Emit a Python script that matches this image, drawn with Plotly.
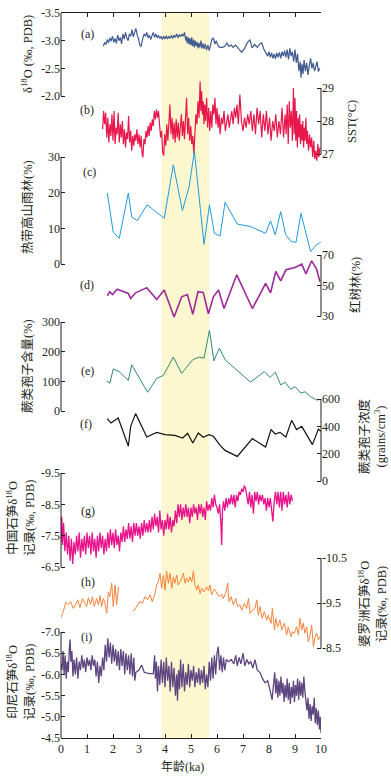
import plotly.graph_objects as go

# ---------------- data ----------------
# (a) delta18O, permil PDB
a_age = [1.63, 1.68, 1.73, 1.78, 1.83, 1.88, 1.93, 1.98, 2.03, 2.08, 2.13, 2.18, 2.23, 2.28,
         2.33, 2.38, 2.43, 2.48, 2.53, 2.58, 2.63, 2.68, 2.73, 2.78, 2.83, 2.88, 2.93, 2.98,
         3.03, 3.08, 3.15, 3.20, 3.25, 3.30, 3.35, 3.40, 3.45, 3.50, 3.55, 3.60, 3.65, 3.70,
         3.75, 3.80, 3.85, 3.90, 3.95, 4.00, 4.05, 4.10, 4.15, 4.20, 4.25, 4.30, 4.35, 4.40,
         4.45, 4.50, 4.55, 4.60, 4.65, 4.70, 4.75, 4.80, 4.83, 4.86, 4.90, 4.93, 4.96, 5.00,
         5.03, 5.06, 5.10, 5.13, 5.16, 5.20, 5.23, 5.27, 5.30, 5.34, 5.38, 5.42, 5.46, 5.50,
         5.55, 5.60, 5.65, 5.70, 5.75, 5.80, 5.86, 5.92, 5.97, 6.03, 6.10, 6.20, 6.30, 6.38,
         6.45, 6.55, 6.62, 6.72, 6.82, 6.95, 7.05, 7.15, 7.27, 7.35, 7.45, 7.55, 7.65, 7.72,
         7.80, 7.88, 7.95, 8.00, 8.05, 8.10, 8.15, 8.20, 8.25, 8.30, 8.35, 8.40, 8.45, 8.50,
         8.55, 8.60, 8.65, 8.70, 8.75, 8.80, 8.85, 8.90, 8.95, 9.00, 9.05, 9.10, 9.15, 9.20,
         9.23, 9.27, 9.31, 9.35, 9.40, 9.45, 9.50, 9.55, 9.60, 9.65, 9.70, 9.75, 9.80, 9.85,
         9.90, 9.95]
a_val = [-2.90, -2.97, -2.93, -3.02, -2.96, -3.05, -2.99, -3.08, -2.97, -3.04, -2.95, -3.10,
         -3.00, -3.06, -2.94, -3.12, -3.03, -3.15, -3.05, -3.00, -3.12, -3.08, -3.20, -3.07,
         -3.15, -3.22, -3.10, -3.04, -2.92, -2.90, -3.05, -3.12, -3.08, -3.15, -3.05, -3.10,
         -3.02, -3.10, -3.15, -3.06, -3.12, -3.05, -3.10, -3.04, -3.08, -3.02, -3.08, -3.03,
         -3.09, -3.03, -3.08, -3.04, -3.10, -3.04, -3.10, -3.06, -3.12, -3.05, -3.11, -3.07,
         -3.12, -3.08, -3.15, -3.00, -3.08, -2.95, -3.06, -2.93, -3.04, -2.92, -3.06, -2.90,
         -3.02, -2.88, -3.00, -2.90, -2.98, -2.86, -2.96, -2.88, -3.00, -2.86, -2.95, -2.85,
         -2.94, -2.83, -2.92, -2.82, -2.95, -3.02, -3.05, -2.94, -3.00, -2.92, -2.88, -2.88,
         -2.90, -2.96, -2.90, -2.92, -2.88, -2.92, -2.86, -2.79, -2.85, -2.95, -3.02, -2.87,
         -2.93, -2.88, -2.94, -2.96, -2.85, -2.77, -2.72, -2.80, -2.70, -2.78, -2.68, -2.76,
         -2.67, -2.78, -2.70, -2.79, -2.68, -2.80, -2.72, -2.82, -2.70, -2.84, -2.66, -2.86,
         -2.72, -2.80, -2.62, -2.84, -2.60, -2.76, -2.45, -2.62, -2.33, -2.58, -2.40, -2.65,
         -2.45, -2.60, -2.38, -2.55, -2.68, -2.50, -2.60, -2.45, -2.56, -2.62, -2.44, -2.50]

# (b) SST, deg C
b_age = [1.60, 1.64, 1.68, 1.72, 1.76, 1.80, 1.84, 1.88, 1.92, 1.96, 2.00, 2.04, 2.08, 2.12,
         2.16, 2.20, 2.24, 2.28, 2.32, 2.36, 2.40, 2.44, 2.48, 2.52, 2.56, 2.60, 2.64, 2.68,
         2.72, 2.76, 2.80, 2.84, 2.88, 2.92, 2.96, 3.00, 3.04, 3.08, 3.12, 3.15, 3.19, 3.23,
         3.27, 3.31, 3.35, 3.39, 3.43, 3.47, 3.51, 3.55, 3.59, 3.63, 3.67, 3.71, 3.75, 3.79,
         3.83, 3.87, 3.91, 3.95, 3.99, 4.03, 4.07, 4.11, 4.15, 4.19, 4.23, 4.27, 4.31, 4.35,
         4.39, 4.43, 4.47, 4.51, 4.55, 4.59, 4.63, 4.67, 4.71, 4.75, 4.79, 4.83, 4.87, 4.91,
         4.95, 4.99, 5.03, 5.07, 5.11, 5.15, 5.19, 5.23, 5.27, 5.31, 5.35, 5.38, 5.41, 5.44,
         5.47, 5.50, 5.53, 5.56, 5.60, 5.64, 5.68, 5.72, 5.76, 5.80, 5.84, 5.88, 5.92, 5.96,
         6.00, 6.04, 6.08, 6.12, 6.17, 6.22, 6.27, 6.32, 6.37, 6.42, 6.47, 6.52, 6.57, 6.62,
         6.67, 6.72, 6.77, 6.82, 6.88, 6.94, 7.00, 7.06, 7.12, 7.18, 7.24, 7.30, 7.36, 7.42,
         7.48, 7.54, 7.60, 7.66, 7.72, 7.78, 7.84, 7.90, 7.96, 8.02, 8.08, 8.14, 8.20, 8.26,
         8.32, 8.38, 8.44, 8.50, 8.56, 8.62, 8.66, 8.70, 8.74, 8.78, 8.82, 8.86, 8.90, 8.94,
         8.97, 9.00, 9.03, 9.06, 9.09, 9.12, 9.15, 9.18, 9.21, 9.24, 9.27, 9.30, 9.33, 9.36,
         9.39, 9.42, 9.45, 9.48, 9.52, 9.56, 9.60, 9.64, 9.68, 9.72, 9.76, 9.80, 9.84, 9.88,
         9.92, 9.96]
b_val = [27.75, 28.30, 27.90, 28.25, 27.50, 28.10, 27.35, 27.90, 27.55, 28.20, 27.40, 28.30,
         27.30, 27.80, 27.60, 28.25, 27.35, 27.90, 27.50, 28.00, 27.30, 27.75, 27.20, 27.65,
         27.45, 28.15, 27.35, 27.70, 27.10, 27.55, 27.25, 27.60, 27.40, 27.75, 27.30, 27.60,
         27.20, 27.55, 27.00, 26.90, 27.45, 27.30, 27.70, 27.50, 27.85, 27.55, 27.95, 27.70,
         28.05, 27.85, 28.30, 28.05, 28.35, 28.10, 28.30, 27.80, 27.50, 27.70, 27.05, 26.95,
         27.60, 27.25, 27.90, 27.40, 28.20, 28.50, 27.60, 28.10, 27.45, 27.95, 27.35, 28.05,
         27.50, 27.95, 27.40, 27.85, 28.20, 27.55, 28.00, 27.45, 28.15, 28.70, 27.60, 28.10,
         27.40, 27.85, 27.30, 27.55, 27.00, 27.70, 28.20, 27.90, 28.60, 28.10, 29.20, 28.30,
         28.90, 28.20, 28.60, 27.90, 28.50, 28.00, 28.70, 27.80, 28.40, 27.70, 28.30, 27.80,
         28.50, 28.20, 28.70, 27.90, 28.40, 27.80, 28.20, 27.60, 28.10, 27.90, 28.30, 27.70,
         28.00, 28.20, 27.80, 28.10, 28.30, 27.90, 28.40, 28.10, 28.50, 27.90, 28.80, 28.00,
         27.70, 28.10, 27.80, 28.20, 27.90, 28.30, 27.70, 28.20, 27.60, 28.40, 27.90, 28.30,
         27.50, 28.20, 27.70, 28.30, 27.60, 28.10, 27.40, 28.00, 27.70, 28.20, 27.50, 28.00,
         27.60, 28.40, 27.50, 28.20, 27.60, 28.50, 27.30, 28.60, 27.80, 28.30, 27.40, 29.00,
         27.60, 28.70, 27.40, 28.30, 27.20, 28.10, 27.50, 28.20, 27.30, 27.90, 27.40, 28.00,
         27.20, 27.80, 27.40, 28.10, 27.30, 27.70, 27.10, 27.60, 27.20, 27.50, 26.90, 27.40,
         26.85, 27.10, 26.80, 27.30, 26.90, 27.20]

# (c) tropical montane rainforest, %
c_age = [1.78, 2.01, 2.24, 2.59, 2.72, 2.94, 3.31, 3.97, 4.32, 4.67, 4.93, 5.13, 5.50, 5.71,
         5.90, 6.12, 6.31, 6.78, 7.29, 7.87, 8.06, 8.24, 8.45, 8.64, 8.85, 9.04, 9.23, 9.60,
         9.81, 9.99]
c_val = [19.9, 8.9, 7.2, 19.9, 13.1, 12.2, 16.6, 12.8, 27.8, 15.0, 21.7, 31.6, 5.5, 16.6,
         8.6, 7.9, 17.3, 11.2, 10.5, 8.6, 12.1, 8.2, 14.7, 8.2, 6.3, 6.1, 14.2, 3.5, 5.3, 6.1]

# (d) mangrove, %
d_age = [1.78, 1.88, 1.98, 2.16, 2.59, 2.68, 2.87, 3.30, 3.68, 3.97, 4.35, 4.64, 4.86, 5.07,
         5.27, 5.47, 5.67, 5.86, 6.06, 6.27, 6.76, 7.36, 7.87, 8.06, 8.26, 8.45, 8.65, 9.00,
         9.26, 9.42, 9.64, 9.83, 9.96]
d_val = [43.3, 45.9, 44.1, 47.5, 44.8, 41.5, 45.2, 48.6, 40.8, 47.0, 29.3, 42.6, 44.1, 31.1,
         45.9, 45.5, 31.5, 42.6, 47.0, 34.9, 57.0, 34.9, 51.4, 45.2, 59.2, 53.0, 60.3, 61.8,
         64.0, 57.6, 66.2, 60.7, 52.5]

# (e) fern spores, %
e_age = [1.76, 1.88, 2.01, 2.23, 2.59, 2.72, 3.33, 3.68, 3.94, 4.32, 4.64, 5.07, 5.31, 5.50,
         5.71, 5.88, 6.09, 6.31, 7.29, 7.82, 8.04, 8.24, 8.45, 8.62, 8.83, 9.00, 9.23, 9.38,
         9.60, 9.83, 9.99]
e_val = [101, 94, 142, 133, 103, 156, 63, 110, 120, 182, 127, 173, 182, 178, 272, 169, 212,
         173, 97, 133, 113, 131, 88, 97, 73, 82, 60, 65, 48, 37, 39]

# (f) fern spore concentration, grains/cm3
f_age = [1.78, 1.92, 2.20, 2.59, 2.68, 2.87, 3.30, 3.68, 4.00, 4.38, 4.68, 4.87, 5.07, 5.28,
         5.47, 5.69, 5.86, 6.12, 6.31, 6.78, 7.36, 7.87, 8.08, 8.24, 8.42, 8.65, 8.87, 9.06,
         9.26, 9.67, 9.90, 9.99]
f_val = [456, 424, 461, 254, 400, 493, 322, 356, 339, 334, 315, 349, 278, 351, 320, 339, 327,
         261, 224, 180, 310, 249, 376, 344, 356, 322, 444, 376, 400, 266, 380, 363]

# (g) China stalagmite delta18O
g_age = [0.00, 0.03, 0.06, 0.10, 0.15, 0.20, 0.25, 0.30, 0.35, 0.40, 0.45, 0.50, 0.55, 0.60,
         0.65, 0.70, 0.75, 0.80, 0.85, 0.90, 0.95, 1.00, 1.05, 1.10, 1.15, 1.20, 1.25, 1.30,
         1.35, 1.40, 1.45, 1.50, 1.55, 1.60, 1.65, 1.70, 1.75, 1.80, 1.85, 1.90, 1.95, 2.00,
         2.05, 2.10, 2.15, 2.20, 2.25, 2.30, 2.35, 2.40, 2.45, 2.50, 2.55, 2.60, 2.65, 2.70,
         2.75, 2.80, 2.85, 2.90, 2.95, 3.00, 3.05, 3.10, 3.15, 3.20, 3.25, 3.30, 3.35, 3.40,
         3.45, 3.50, 3.55, 3.60, 3.65, 3.70, 3.75, 3.80, 3.85, 3.90, 3.95, 4.00, 4.05, 4.10,
         4.15, 4.20, 4.25, 4.30, 4.35, 4.40, 4.45, 4.50, 4.55, 4.60, 4.65, 4.70, 4.75, 4.80,
         4.85, 4.90, 4.95, 5.00, 5.05, 5.10, 5.15, 5.20, 5.25, 5.30, 5.35, 5.40, 5.45, 5.50,
         5.55, 5.60, 5.65, 5.70, 5.75, 5.80, 5.85, 5.90, 5.95, 6.00, 6.05, 6.10, 6.15, 6.18,
         6.21, 6.25, 6.30, 6.35, 6.40, 6.45, 6.50, 6.55, 6.60, 6.65, 6.70, 6.75, 6.80, 6.85,
         6.90, 6.95, 7.00, 7.05, 7.10, 7.15, 7.20, 7.25, 7.30, 7.35, 7.40, 7.45, 7.50, 7.55,
         7.60, 7.65, 7.70, 7.75, 7.80, 7.85, 7.90, 7.95, 8.00, 8.05, 8.10, 8.15, 8.20, 8.25,
         8.30, 8.35, 8.40, 8.45, 8.50, 8.55, 8.60, 8.65, 8.70, 8.75, 8.80, 8.85, 8.90]
g_val = [-7.3, -8.1, -7.2, -7.9, -7.0, -7.6, -6.9, -7.5, -6.7, -7.4, -6.6, -7.3, -6.9, -7.5,
         -7.0, -7.6, -6.8, -7.4, -7.0, -7.5, -6.9, -7.6, -7.1, -7.5, -6.9, -7.6, -7.0, -7.4,
         -6.8, -7.5, -7.0, -7.6, -7.1, -7.5, -6.9, -7.4, -7.0, -7.6, -7.1, -7.7, -7.2, -7.6,
         -7.1, -7.7, -7.2, -7.5, -7.0, -7.6, -7.3, -7.8, -7.3, -7.7, -7.4, -7.9, -7.4, -7.8,
         -7.3, -7.9, -7.5, -7.9, -7.5, -7.8, -7.4, -7.9, -7.5, -8.0, -7.6, -7.9, -7.6, -8.0,
         -7.6, -8.1, -7.7, -8.2, -7.8, -8.1, -7.6, -8.3, -7.7, -8.0, -7.5, -8.0, -7.7, -8.2,
         -7.7, -8.1, -7.6, -8.0, -7.8, -8.3, -7.9, -8.5, -8.1, -8.5, -8.0, -8.4, -8.1, -8.5,
         -8.1, -8.4, -7.9, -8.4, -8.1, -8.5, -8.2, -8.4, -8.0, -8.5, -8.2, -8.5, -8.1, -8.4,
         -8.0, -8.6, -8.3, -8.5, -8.3, -8.7, -8.4, -8.8, -8.5, -8.4, -8.2, -8.5, -7.9, -7.2,
         -8.3, -8.6, -8.3, -8.7, -8.4, -8.7, -8.5, -8.8, -8.5, -8.8, -8.4, -8.8, -8.6, -8.9,
         -8.8, -9.0, -8.9, -9.1, -9.0, -8.8, -8.5, -8.9, -8.4, -8.8, -8.2, -8.9, -8.6, -8.9,
         -8.5, -8.8, -8.6, -8.8, -8.5, -8.7, -8.3, -8.7, -8.4, -8.7, -8.2, -7.95, -8.6, -8.9,
         -8.5, -8.9, -8.4, -8.9, -8.3, -8.9, -8.5, -8.8, -8.4, -8.9, -8.5, -8.8, -8.6]

# (h) Borneo stalagmite delta18O (gap near 2.2-2.8 ka)
h_age = [0.00, 0.09, 0.18, 0.28, 0.37, 0.47, 0.56, 0.64, 0.73, 0.82, 0.92, 0.99, 1.05, 1.14,
         1.21, 1.28, 1.37, 1.44, 1.50, 1.56, 1.63, 1.69, 1.76, 1.82, 1.88, 1.95, 2.01, 2.08,
         2.14, 2.21, 2.50,
         2.78, 2.91, 3.04, 3.13, 3.23, 3.33, 3.42, 3.51, 3.62, 3.68, 3.74, 3.81, 3.87, 3.94,
         4.00, 4.06, 4.13, 4.19, 4.26, 4.32, 4.38, 4.45, 4.51, 4.62, 4.71, 4.77, 4.83, 4.90,
         4.96, 5.03, 5.09, 5.15, 5.22, 5.28, 5.35, 5.41, 5.50, 5.60, 5.67, 5.73, 5.79, 5.90,
         5.99, 6.08, 6.18, 6.24, 6.33, 6.41, 6.46, 6.54, 6.63, 6.72, 6.79, 6.88, 6.95, 7.05,
         7.14, 7.21, 7.27, 7.36, 7.46, 7.53, 7.59, 7.65, 7.74, 7.82, 7.91, 7.97, 8.08, 8.13,
         8.21, 8.26, 8.33, 8.42, 8.49, 8.59, 8.68, 8.74, 8.85, 8.90, 8.97, 9.06, 9.13, 9.19,
         9.26, 9.32, 9.38, 9.45, 9.51, 9.58, 9.64, 9.71, 9.77, 9.83, 9.90, 9.96]
h_val = [-9.18, -9.31, -9.51, -9.47, -9.53, -9.38, -9.46, -9.57, -9.40, -9.60, -9.49, -9.42,
         -9.62, -9.47, -9.64, -9.42, -9.60, -9.46, -9.66, -9.42, -9.60, -9.49, -9.27, -9.75,
         -9.64, -9.94, -9.42, -9.90, -9.46, -9.86, None,
         -9.31, -9.42, -9.54, -9.49, -9.64, -9.57, -9.68, -9.53, -9.71, -9.90, -9.97, -10.16,
         -9.83, -10.12, -9.79, -10.21, -9.94, -10.16, -9.83, -10.08, -9.94, -10.12, -9.90,
         -10.01, -10.16, -9.94, -10.05, -9.97, -10.08, -9.97, -10.21, -9.91, -9.79, -9.90,
         -9.71, -9.83, -9.75, -9.86, -9.77, -9.90, -9.68, -9.81, -9.71, -9.64, -9.69, -9.60,
         -9.71, -9.94, -9.53, -9.64, -9.46, -9.60, -9.42, -9.46, -9.34, -9.49, -9.38, -9.60,
         -9.27, -9.34, -9.38, -9.57, -9.23, -9.42, -9.16, -9.31, -9.12, -9.23, -9.05, -9.38,
         -8.90, -9.16, -8.97, -9.12, -8.90, -9.05, -8.79, -8.97, -8.75, -8.86, -8.83, -8.97,
         -8.79, -9.16, -8.90, -9.05, -8.83, -8.97, -8.64, -8.79, -9.01, -8.53, -8.75, -8.83,
         -8.68, -8.75]

# (i) Indonesia stalagmite delta18O
i_age = [0.00, 0.04, 0.08, 0.12, 0.16, 0.20, 0.24, 0.28, 0.32, 0.35, 0.38, 0.42, 0.46, 0.50,
         0.55, 0.60, 0.65, 0.70, 0.75, 0.80, 0.85, 0.90, 0.95, 1.00, 1.05, 1.10, 1.15, 1.20,
         1.25, 1.30, 1.35, 1.40, 1.45, 1.50, 1.55, 1.60, 1.65, 1.70, 1.75, 1.80, 1.85, 1.90,
         1.95, 2.00, 2.05, 2.10, 2.15, 2.20, 2.25, 2.30, 2.35, 2.40, 2.45, 2.50, 2.55, 2.60,
         2.65, 2.70, 2.75, 2.80, 2.84, 2.88, 3.00, 3.10, 3.20, 3.40, 3.55, 3.60, 3.63, 3.67,
         3.71, 3.75, 3.80, 3.85, 3.90, 3.95, 4.00, 4.05, 4.10, 4.15, 4.20, 4.25, 4.30, 4.35,
         4.40, 4.45, 4.48, 4.52, 4.56, 4.60, 4.65, 4.70, 4.75, 4.80, 4.85, 4.90, 4.95, 5.00,
         5.05, 5.10, 5.15, 5.20, 5.25, 5.30, 5.35, 5.40, 5.45, 5.50, 5.55, 5.60, 5.65, 5.70,
         5.75, 5.80, 5.85, 5.90, 5.95, 6.00, 6.05, 6.10, 6.15, 6.20, 6.25, 6.30, 6.36, 6.45,
         6.55, 6.65, 6.72, 6.78, 6.85, 6.92, 7.00, 7.07, 7.15, 7.22, 7.30, 7.38, 7.46, 7.55,
         7.65, 7.75, 7.85, 7.95, 8.05, 8.12, 8.18, 8.22, 8.26, 8.30, 8.34, 8.38, 8.42, 8.46,
         8.50, 8.54, 8.58, 8.62, 8.66, 8.70, 8.74, 8.78, 8.82, 8.86, 8.90, 8.94, 8.98, 9.02,
         9.06, 9.10, 9.14, 9.18, 9.22, 9.26, 9.30, 9.34, 9.38, 9.42, 9.46, 9.50, 9.54, 9.58,
         9.62, 9.66, 9.70, 9.74, 9.78, 9.82, 9.86, 9.90, 9.94, 9.97, 10.00]
i_val = [-6.25, -6.10, -6.55, -6.00, -6.45, -5.90, -6.30, -6.05, -6.60, -6.82, -6.30, -6.55,
         -5.95, -6.35, -6.00, -6.40, -5.90, -6.30, -6.10, -6.45, -6.15, -6.35, -6.05, -6.40,
         -6.20, -6.35, -6.10, -6.45, -6.20, -6.35, -5.95, -6.30, -5.80, -6.20, -5.95, -6.40,
         -6.10, -6.70, -6.30, -6.85, -6.40, -6.75, -6.25, -6.70, -6.30, -6.60, -6.20, -6.55,
         -6.10, -6.60, -6.20, -6.55, -6.00, -6.50, -6.10, -6.45, -6.00, -6.50, -5.95, -6.40,
         -5.85, -6.05, -6.10, -6.22, -6.05, -6.02, -6.02, -6.45, -5.90, -6.30, -5.60, -6.20,
         -5.75, -6.35, -5.80, -6.30, -5.70, -6.40, -5.85, -6.20, -5.60, -6.30, -5.70, -6.15,
         -5.50, -6.00, -5.38, -6.10, -5.65, -6.35, -5.70, -6.25, -5.60, -6.05, -5.75, -6.25,
         -5.70, -6.10, -5.85, -6.20, -5.70, -6.05, -5.80, -6.15, -5.75, -6.10, -5.80, -6.20,
         -5.65, -6.00, -5.70, -6.30, -5.85, -6.40, -5.90, -6.45, -6.00, -6.50, -6.65, -6.10,
         -6.45, -6.05, -6.40, -6.10, -6.35, -6.30, -6.35, -6.25, -6.45, -6.20, -6.40, -6.25,
         -6.50, -6.20, -6.35, -6.25, -6.30, -6.15, -6.35, -6.10, -6.05, -5.90, -5.80, -5.85,
         -5.60, -5.40, -5.80, -6.05, -5.55, -5.90, -5.45, -5.85, -5.50, -5.95, -5.55, -5.80,
         -5.35, -5.75, -5.45, -5.90, -5.40, -5.80, -5.30, -5.70, -5.45, -5.85, -5.35, -5.75,
         -5.50, -5.90, -5.40, -5.85, -5.50, -5.80, -5.45, -5.95, -5.60, -5.35, -5.15, -5.45,
         -4.95, -5.30, -4.90, -5.25, -5.05, -5.45, -4.85, -5.20, -4.80, -5.15, -4.70, -5.00,
         -4.62]

# tick labels
a_ticks = ["-3.5", "-3.0", "-2.5", "-2.0"]
b_ticks = ["29", "28", "27"]
c_ticks = ["30", "20", "10", "0"]
d_ticks = ["70", "50", "30"]
e_ticks = ["300", "200", "100", "0"]
f_ticks = ["600", "400", "200", "0"]
g_ticks = ["-9.5", "-8.5", "-7.5", "-6.5"]
h_ticks = ["-10.5", "-9.5", "-8.5"]
i_ticks = ["-7.0", "-6.5", "-6.0", "-5.5", "-5.0", "-4.5"]
age_ticks = [0, 1, 2, 3, 4, 5, 6, 7, 8, 9, 10]
band = [3.87, 5.70]   # shaded interval, ka

# ---------------- layout helpers ----------------
FONT = "Liberation Serif, Noto Sans CJK SC, serif"
INK = "#231f20"
WIDTH, HEIGHT = 391, 777
MARGIN = dict(l=61, r=70, t=13, b=39)
BOTTOM = HEIGHT - MARGIN["b"]
PLOT_H = HEIGHT - MARGIN["t"] - MARGIN["b"]
PLOT_W = WIDTH - MARGIN["l"] - MARGIN["r"]


def paper_x(px):
    return (px - MARGIN["l"]) / PLOT_W


def paper_y(px):
    return (BOTTOM - px) / PLOT_H


def frame(v1, p1, v2, p2, top, bot):
    """y-axis domain/range so that value v1 sits at pixel row p1 and v2 at p2"""
    k = (v2 - v1) / (p2 - p1)
    return [paper_y(bot), paper_y(top)], [v1 + (bot - p1) * k, v1 + (top - p1) * k]


def note(text, px, py, size=12, angle=0):
    return dict(text=text, x=paper_x(px), y=paper_y(py), xref="paper", yref="paper",
                xanchor="center", yanchor="middle", showarrow=False, textangle=angle,
                font=dict(size=size, color=INK))


panels = [
    dict(x=a_age, y=a_val, color="#3f5a8f", lw=1.2, side="left", ref=(-3.5, 13, -2.0, 96),
         ext=(13, 98), ticks=a_ticks, tag=("(a)", 87, 34),
         title=("δ<sup>18</sup>O (‰, PDB)", 27, 54)),
    dict(x=b_age, y=b_val, color="#e8174b", lw=1.2, side="right", ref=(29, 88, 27, 154),
         ext=(80, 163), ticks=b_ticks, tag=("(b)", 87, 110), title=("SST(°C)", 352, 122)),
    dict(x=c_age, y=c_val, color="#1f9be0", lw=1.0, side="left", ref=(30, 157, 0, 264),
         ext=(148, 266), ticks=c_ticks, tag=("(c)", 89, 172), title=("热带高山雨林(%)", 27, 207)),
    dict(x=d_age, y=d_val, color="#9c2a9a", lw=1.6, side="right", ref=(70, 255, 30, 316),
         ext=(250, 320), ticks=d_ticks, tag=("(d)", 87, 285), title=("红树林(%)", 356, 285)),
    dict(x=e_age, y=e_val, color="#2f8c72", lw=1.0, side="left", ref=(300, 322, 0, 411),
         ext=(316, 414), ticks=e_ticks, tag=("(e)", 87, 371), title=("蕨类孢子含量(%)", 27, 366)),
    dict(x=f_age, y=f_val, color="#111111", lw=1.2, side="right", ref=(600, 399, 0, 481),
         ext=(393, 484), ticks=f_ticks, tag=("(f)", 86, 424),
         title=("蕨类孢子浓度<br>(grains/cm<sup>3</sup>)", 372, 436)),
    dict(x=g_age, y=g_val, color="#e8128a", lw=1.3, side="left", ref=(-9.5, 473, -6.5, 567),
         ext=(466, 572), ticks=g_ticks, tag=("(g)", 88, 511),
         title=("中国石笋δ<sup>18</sup>O<br>记录(‰, PDB)", 20, 518)),
    dict(x=h_age, y=h_val, color="#f5833a", lw=1.0, side="right", ref=(-10.5, 558, -8.5, 648),
         ext=(552, 652), ticks=h_ticks, tag=("(h)", 88, 582),
         title=("婆罗洲石笋δ<sup>18</sup>O<br>记录(‰, PDB)", 372, 604)),
    dict(x=i_age, y=i_val, color="#5e4680", lw=1.3, side="left", ref=(-7.0, 632, -4.5, 738),
         ext=(626, 738), ticks=i_ticks, tag=("(i)", 86, 637),
         title=("印尼石笋δ<sup>18</sup>O<br>记录(‰, PDB)", 20, 682)),
]

fig = go.Figure()
layout = {}
shapes = [dict(type="rect", xref="x", yref="paper", x0=band[0], x1=band[1], y0=0, y1=1,
               fillcolor="#fdf7d0", line_width=0, layer="below")]
annotations = []

for n, p in enumerate(panels, start=1):
    sfx = "" if n == 1 else str(n)
    fig.add_trace(go.Scatter(x=p["x"], y=p["y"], mode="lines", xaxis="x" + sfx, yaxis="y" + sfx,
                             line=dict(color=p["color"], width=p["lw"]), connectgaps=False,
                             hoverinfo="skip", showlegend=False))
    dom, rng = frame(*p["ref"], *p["ext"])
    vals = [float(t) for t in p["ticks"]]
    layout["yaxis" + sfx] = dict(
        domain=dom, range=rng, anchor="x" + sfx, side=p["side"],
        tickvals=vals, ticktext=p["ticks"], ticks="inside", ticklen=4, tickwidth=1,
        tickcolor=INK, tickfont=dict(size=12, color=INK), showline=False,
        showgrid=False, zeroline=False, fixedrange=True, automargin=False,
    )
    layout["xaxis" + sfx] = dict(domain=[0, 1], range=[0, 10], anchor="y" + sfx,
                                 visible=False, fixedrange=True)
    edge = 0 if p["side"] == "left" else 1
    shapes.append(dict(type="line", xref="paper", yref="y" + sfx, x0=edge, x1=edge,
                       y0=min(vals), y1=max(vals), line=dict(color=INK, width=1)))
    annotations.append(note(p["tag"][0], p["tag"][1], p["tag"][2], size=12))
    annotations.append(note(p["title"][0], p["title"][1], p["title"][2], size=12.5, angle=-90))

# top frame line with inward ticks, and the labelled age axis at the bottom
axis_common = dict(visible=True, showline=True, linecolor=INK, linewidth=1, ticks="inside",
                   ticklen=4, tickcolor=INK, tickvals=age_ticks, showgrid=False, zeroline=False)
layout["xaxis"].update(axis_common, side="top", showticklabels=False)
layout["xaxis9"].update(axis_common, side="bottom", tickfont=dict(size=12, color=INK))
annotations.append(note("年龄(ka)", 182, 767, size=12))

fig.update_layout(
    width=WIDTH, height=HEIGHT, margin=MARGIN,
    paper_bgcolor="white", plot_bgcolor="rgba(0,0,0,0)",
    font=dict(family=FONT, color=INK),
    shapes=shapes, annotations=annotations, **layout,
)
# drop the browser's default page margin so the figure sits at the window's corner
fig.write_html("out.html", config={"displayModeBar": False},
               post_script="document.body.style.margin='0';")
